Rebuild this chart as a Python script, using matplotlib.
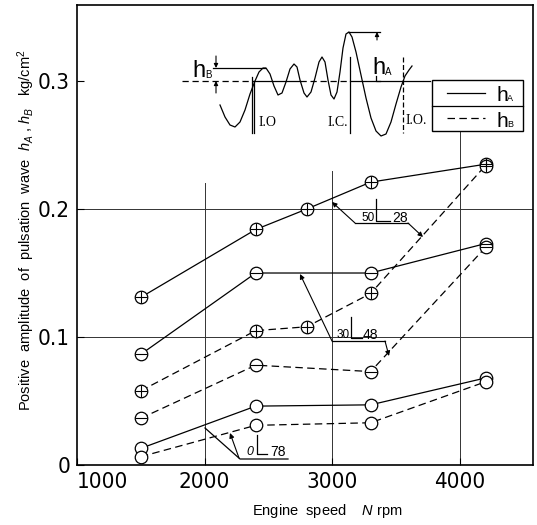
import matplotlib.pyplot as plt
from matplotlib.patches import Rectangle

plt.rcParams['font.family'] = ['Liberation Sans', 'DejaVu Sans']
plt.rcParams['mathtext.fontset'] = 'custom'
plt.rcParams['mathtext.rm'] = 'Liberation Sans'
plt.rcParams['mathtext.it'] = 'Liberation Sans:italic'

# engine speed, rpm
rpm5 = [1500, 2400, 2800, 3300, 4200]
rpm4 = [1500, 2400, 3300, 4200]

# positive amplitude, kg/cm2
hA_50_28 = [0.131, 0.184, 0.200, 0.221, 0.235]
hB_50_28 = [0.058, 0.105, 0.108, 0.134, 0.234]
hA_30_48 = [0.0865, 0.150, 0.150, 0.173]
hB_30_48 = [0.0365, 0.078, 0.073, 0.170]
hA_0_78 = [0.013, 0.046, 0.047, 0.068]
hB_0_78 = [0.0065, 0.031, 0.033, 0.065]

xticks = [1000, 2000, 3000, 4000]
yticks = [0, 0.1, 0.2, 0.3]
ytick_labels = ['0', '0.1', '0.2', '0.3']
grid_x = [2000, 3000, 4000]
grid_x_top = [0.22, 0.23, 0.26]
grid_y = [0.1, 0.2]

# schematic pulsation wave (sketch, pixel units of the inset)
wave_x = [220, 225, 230, 235, 240, 245, 250, 255, 259, 263, 266, 270, 274, 278,
          282, 286, 290, 294, 297, 300, 304, 307, 311, 315, 319, 322, 325, 328,
          331, 334, 337, 340, 343, 346, 349, 352, 356, 361, 366, 371, 376, 381,
          386, 391, 396, 401, 405, 409, 412]
wave_y = [105, 117, 125, 127, 122, 110, 94, 81, 72, 68, 68, 74, 86, 95,
          93, 82, 69, 64, 67, 80, 93, 97, 92, 78, 62, 57, 62, 80,
          95, 99, 92, 72, 48, 34, 32, 37, 52, 75, 98, 118, 131, 136,
          134, 122, 104, 87, 76, 70, 66]

fig = plt.figure(figsize=(5.37, 5.25), dpi=100)
ax = fig.add_axes([77 / 537, 1 - 465 / 525, 456 / 537, 460 / 525])
ax.set_xlim(1000, 4572)
ax.set_ylim(0, 0.3594)

for gx, gt in zip(grid_x, grid_x_top):
    ax.axvline(gx, ymax=gt / 0.3594, color='#333333', lw=0.7, zorder=1)
for gy in grid_y:
    ax.axhline(gy, color='#333333', lw=0.7, zorder=1)

mk = dict(marker='o', ms=9, mfc='white', mec='k', mew=0.9, color='k', lw=0.9, zorder=3)
dash = (0, (6, 3.5))

ax.plot(rpm5, hA_50_28, ls='-', **mk)
ax.plot(rpm5, hB_50_28, ls=dash, **mk)
ax.plot(rpm4, hA_30_48, ls='-', **mk)
ax.plot(rpm4, hB_30_48, ls=dash, **mk)
ax.plot(rpm4, hA_0_78, ls='-', **mk)
ax.plot(rpm4, hB_0_78, ls=dash, **mk)

ax.plot(rpm5, hA_50_28, ls='none', marker='+', ms=8.5, mew=0.8, color='k', zorder=4)
ax.plot(rpm5, hB_50_28, ls='none', marker='+', ms=8.5, mew=0.8, color='k', zorder=4)
ax.plot(rpm4, hA_30_48, ls='none', marker='_', ms=8.5, mew=0.8, color='k', zorder=4)
ax.plot(rpm4, hB_30_48, ls='none', marker='_', ms=8.5, mew=0.8, color='k', zorder=4)

ax.set_xticks(xticks)
ax.set_yticks(yticks)
ax.set_yticklabels(ytick_labels)
ax.tick_params(direction='in', length=5, width=0.8)
ax.tick_params(axis='y', pad=5)
ax.tick_params(axis='x', pad=5)
for lab in ax.get_xticklabels() + ax.get_yticklabels():
    lab.set_fontfamily('DejaVu Sans')
    lab.set_fontstretch('condensed')
    lab.set_fontsize(16)
    lab.set_fontweight('light')
ax.get_xticklabels()[0].set_horizontalalignment('left')
for s in ax.spines.values():
    s.set_linewidth(1.2)

ax.set_ylabel('Positive  amplitude  of  pulsation  wave  $h_A$ , $h_B$   kg/cm$^2$',
              fontsize=10.5)
ax.yaxis.set_label_coords(-0.088, 0.51)
ax.set_xlabel('Engine  speed    $N$ rpm', fontsize=10.5)
ax.xaxis.set_label_coords(0.55, -0.08)

# overlay in pixel units for the sketch, legend box and leader lines
ov = fig.add_axes([0, 0, 1, 1], zorder=5)
ov.set_xlim(0, 537)
ov.set_ylim(525, 0)
ov.axis('off')
ov.patch.set_alpha(0)

k = dict(color='k', lw=0.9)
ov.plot(wave_x, wave_y, **k)
ov.plot([182, 253], [81, 81], ls=(0, (5, 3)), **k)
ov.plot([253, 300], [81, 81], **k)
ov.plot([300, 350], [81, 81], ls=(0, (5, 3)), **k)
ov.plot([350, 430], [81, 81], **k)
ov.plot([252, 252], [77, 133], **k)
ov.plot([254, 254], [81, 133], **k)
ov.plot([350, 350], [57, 133], **k)
ov.plot([403, 403], [57, 133], ls=(0, (4, 2)), **k)
ov.text(259, 123, 'I.O', family='Liberation Serif', fontsize=10, va='center')
ov.text(348, 123, 'I.C.', family='Liberation Serif', fontsize=10, va='center', ha='right')
ov.text(406, 121, 'I.O.', family='Liberation Serif', fontsize=10, va='center')

# h_B marker
ov.plot([213, 265], [68, 68], **k)
ov.annotate('', xy=(216, 68), xytext=(216, 56),
            arrowprops=dict(arrowstyle='-|>', lw=0.8, color='k', mutation_scale=6,
                            shrinkA=0, shrinkB=0))
ov.annotate('', xy=(216, 81), xytext=(216, 93),
            arrowprops=dict(arrowstyle='-|>', lw=0.8, color='k', mutation_scale=6,
                            shrinkA=0, shrinkB=0))
ov.text(192, 77, 'h', fontsize=17, va='baseline')
ov.text(205, 78, 'B', fontsize=7, va='baseline')

# h_A marker
ov.plot([348, 380], [32, 32], **k)
ov.annotate('', xy=(377, 32), xytext=(377, 40),
            arrowprops=dict(arrowstyle='-|>', lw=0.8, color='k', mutation_scale=6,
                            shrinkA=0, shrinkB=0))
ov.plot([376, 376, 380], [76, 81, 81], **k)
ov.text(372, 74, 'h', fontsize=17, va='baseline')
ov.text(385, 75, 'A', fontsize=7, va='baseline')

# legend box
ov.add_patch(Rectangle((432, 80), 91, 51, fc='white', ec='k', lw=1.0))
ov.plot([432, 523], [106, 106], **k)
ov.plot([447, 485], [93, 93], **k)
ov.plot([447, 485], [118, 118], ls=(0, (6, 3.5)), **k)
ov.text(496, 101, 'h', fontsize=15, va='baseline')
ov.text(507, 101, 'A', fontsize=6.5, va='baseline')
ov.text(496, 127, 'h', fontsize=15, va='baseline')
ov.text(507, 127, 'B', fontsize=6.5, va='baseline')

arr = dict(arrowstyle='-|>', lw=0.8, color='k', mutation_scale=7, shrinkA=0, shrinkB=0)

# 50 L 28
ov.plot([355, 408], [223, 223], **k)
ov.annotate('', xy=(332, 202), xytext=(355, 223), arrowprops=arr)
ov.annotate('', xy=(423, 237), xytext=(408, 223), arrowprops=arr)
ov.plot([376, 376, 390], [199, 221, 221], **k)
ov.text(375, 221, '50', fontsize=8.5, ha='right', va='baseline')
ov.text(392, 222, '28', fontsize=10, va='baseline')

# 30 L 48
ov.plot([332, 385], [341, 341], **k)
ov.annotate('', xy=(300, 274), xytext=(332, 341), arrowprops=arr)
ov.annotate('', xy=(389, 356), xytext=(385, 341), arrowprops=arr)
ov.plot([351, 351, 362], [317, 338, 338], **k)
ov.text(350, 338, '30', fontsize=8.5, ha='right', va='baseline')
ov.text(363, 339, '48', fontsize=10, va='baseline')

# 0 L 78
ov.plot([205, 240, 288], [428, 459, 459], **k)
ov.annotate('', xy=(230, 433), xytext=(239, 458), arrowprops=arr)
ov.plot([257, 257, 267], [435, 454, 454], **k)
ov.text(253, 455, '0', fontsize=9, ha='right', va='baseline', style='italic')
ov.text(270, 456, '78', fontsize=10, va='baseline')

fig.savefig('out.png', dpi=100)
